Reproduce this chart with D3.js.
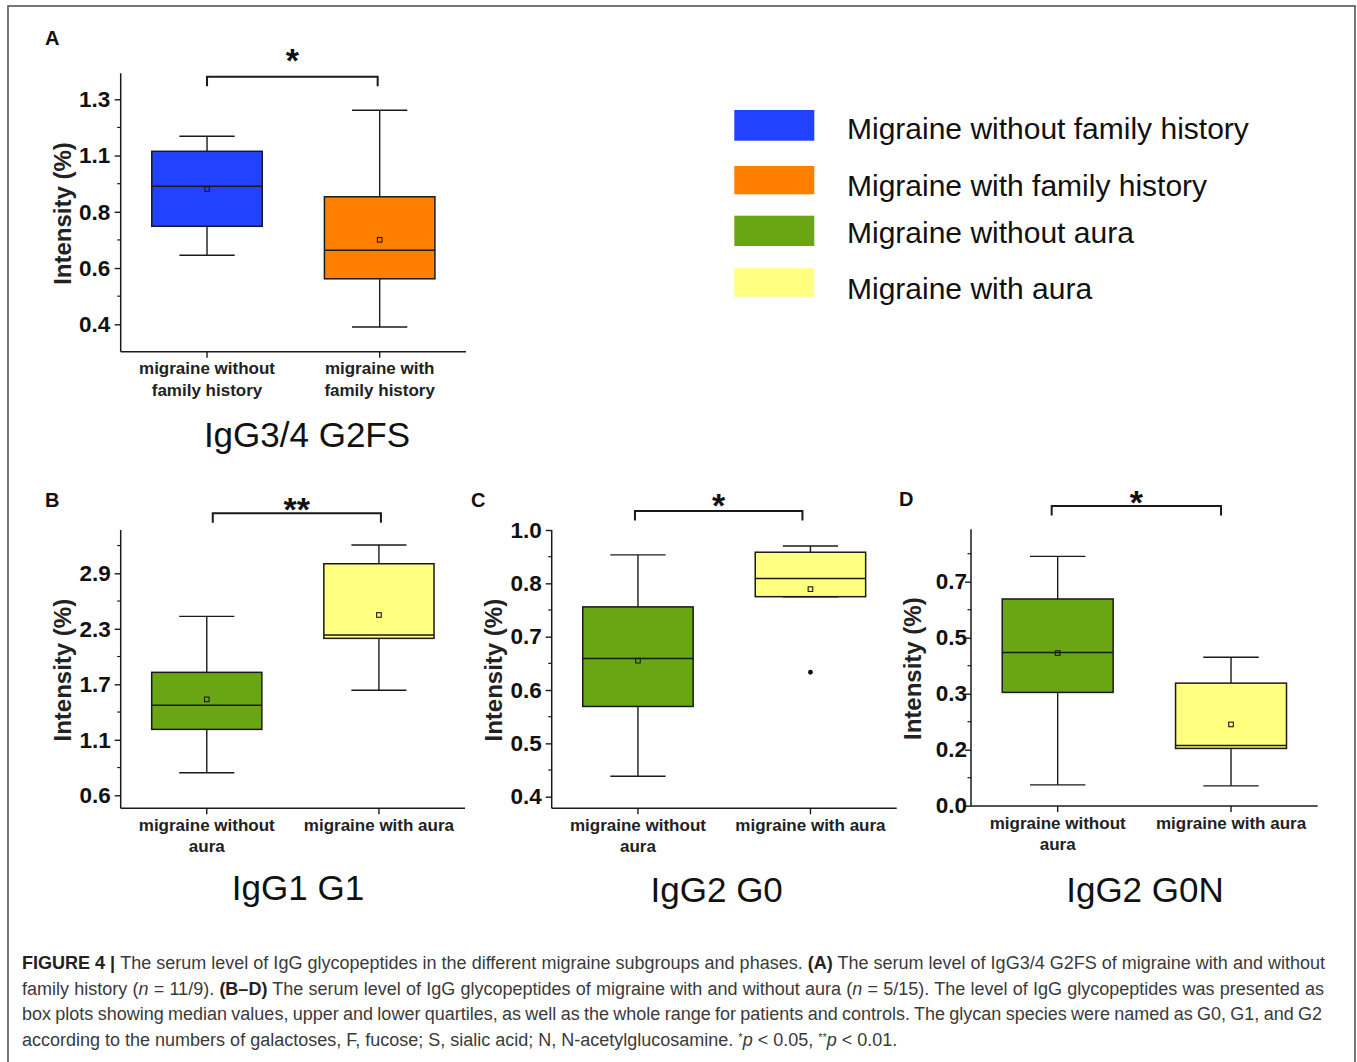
<!DOCTYPE html>
<html>
<head>
<meta charset="utf-8">
<script src="https://cdn.jsdelivr.net/npm/d3@7"></script>
<style>
  body { margin: 0; background: #fff; }
  svg text { font-family: "Liberation Sans", Arial, sans-serif; }
</style>
</head>
<body>
<svg id="fig" width="1357" height="1062"></svg>
<script>
// ----------- DATA -----------
// categories ("|" splits the label onto two lines)
const familyGroups = ["migraine without|family history", "migraine with|family history"];
const auraGroups = ["migraine without|aura", "migraine with aura"];

// box stats: whisker min, q1, median, q3, whisker max, mean
const g2fsBoxes = [
  { min: 0.676, q1: 0.792, median: 0.952, q3: 1.092, max: 1.152, mean: 0.941, outliers: [] },
  { min: 0.389, q1: 0.582, median: 0.696, q3: 0.910, max: 1.256, mean: 0.738, outliers: [] }
];
const g1Boxes = [
  { min: 0.834, q1: 1.283, median: 1.532, q3: 1.874, max: 2.454, mean: 1.594, outliers: [] },
  { min: 1.688, q1: 2.226, median: 2.261, q3: 2.999, max: 3.193, mean: 2.468, outliers: [] }
];
const g0Boxes = [
  { min: 0.446, q1: 0.603, median: 0.711, q3: 0.827, max: 0.944, mean: 0.706, outliers: [] },
  { min: 0.850, q1: 0.850, median: 0.891, q3: 0.950, max: 0.964, mean: 0.867, outliers: [0.680] }
];
const g0nBoxes = [
  { min: 0.065, q1: 0.354, median: 0.479, q3: 0.646, max: 0.779, mean: 0.477, outliers: [] },
  { min: 0.062, q1: 0.179, median: 0.188, q3: 0.383, max: 0.464, mean: 0.254, outliers: [] }
];

// y ticks (the labels are printed rounded, as in the original figure)
const g2fsTicks = [0.4, 0.625, 0.85, 1.075, 1.3];
const g2fsTickLabels = ["0.4", "0.6", "0.8", "1.1", "1.3"];
const g1Ticks = [0.6, 1.175, 1.75, 2.325, 2.9];
const g1TickLabels = ["0.6", "1.1", "1.7", "2.3", "2.9"];
const g0Ticks = [0.4, 0.52, 0.64, 0.76, 0.88, 1.0];
const g0TickLabels = ["0.4", "0.5", "0.6", "0.7", "0.8", "1.0"];
const g0nTicks = [0, 0.175, 0.35, 0.525, 0.7];
const g0nTickLabels = ["0.0", "0.2", "0.3", "0.5", "0.7"];

// legend
const legendLabels = ["Migraine without family history", "Migraine with family history",
                      "Migraine without aura", "Migraine with aura"];
const legendColors = ["#2142ff", "#ff8000", "#6aa514", "#ffff80"];

// ----------- LAYOUT -----------
const panels = [
  { letter: "A", lx: 45, ly: 45, boxes: g2fsBoxes, groups: familyGroups, colors: [legendColors[0], legendColors[1]],
    ticks: g2fsTicks, labels: g2fsTickLabels, left: 120.7, right: 466, top: 73.3, bottom: 351.7,
    yPx: [324.3, 99.3], pad: 4.5, title: "IgG3/4 G2FS", titleX: 307, titleY: 446.7,
    sig: "*", bracketY: 76.7, bracketDx: [0, -2], sigY: 72 },
  { letter: "B", lx: 45, ly: 507, boxes: g1Boxes, groups: auraGroups, colors: [legendColors[2], legendColors[3]],
    ticks: g1Ticks, labels: g1TickLabels, left: 120.7, right: 465, top: 530, bottom: 808.3,
    yPx: [795.3, 573.3], pad: 4, title: "IgG1 G1", titleX: 298, titleY: 900,
    sig: "**", bracketY: 513.3, bracketDx: [6, 2], sigY: 521 },
  { letter: "C", lx: 471, ly: 507, boxes: g0Boxes, groups: auraGroups, colors: [legendColors[2], legendColors[3]],
    ticks: g0Ticks, labels: g0TickLabels, left: 551.7, right: 896.7, top: 530, bottom: 808.3,
    yPx: [796.7, 530], pad: 4, title: "IgG2 G0", titleX: 716.7, titleY: 901.7,
    sig: "*", bracketY: 511, bracketDx: [-3, -8], sigY: 517 },
  { letter: "D", lx: 899, ly: 506, boxes: g0nBoxes, groups: auraGroups, colors: [legendColors[2], legendColors[3]],
    ticks: g0nTicks, labels: g0nTickLabels, left: 971, right: 1317.7, top: 529.3, bottom: 806,
    yPx: [805.7, 581.7], pad: -2, title: "IgG2 G0N", titleX: 1145, titleY: 901.7,
    sig: "*", bracketY: 506, bracketDx: [-6, -10], sigY: 513.5 }
];

const ink = "#1a1a1a";
const svg = d3.select("#fig");

// outer frame of the figure
svg.append("rect")
  .attr("x", 8).attr("y", 6)
  .attr("width", 1347).attr("height", 1080)
  .attr("fill", "none")
  .attr("stroke", "#555")
  .attr("stroke-width", 1.6);

// ----------- PANELS -----------
panels.forEach(p => {
  const g = svg.append("g");

  const y = d3.scaleLinear()
    .domain([p.ticks[0], p.ticks[p.ticks.length - 1]])
    .range(p.yPx);
  const x = d3.scalePoint()
    .domain(p.groups)
    .range([p.left, p.right])
    .padding(0.5);
  const step = x.step();
  const boxW = step * 0.64;
  const capW = step * 0.32;

  // panel letter
  g.append("text")
    .attr("x", p.lx).attr("y", p.ly)
    .attr("font-size", 20).attr("font-weight", "bold")
    .attr("fill", "#111")
    .text(p.letter);

  // y axis, major ticks
  const yAxis = g.append("g")
    .attr("transform", `translate(${p.left},0)`)
    .call(d3.axisLeft(y)
      .tickValues(p.ticks)
      .tickFormat((d, i) => p.labels[i])
      .tickSize(6)
      .tickPadding(p.pad));
  yAxis.select(".domain").remove();
  yAxis.selectAll("line").attr("stroke", ink).attr("stroke-width", 1.4);
  yAxis.selectAll("text")
    .attr("font-size", 22.5).attr("font-weight", "bold")
    .attr("fill", "#111")
    .style("font-family", '"Liberation Sans", Arial, sans-serif');

  // minor ticks halfway between the major ones
  const tStep = p.ticks[1] - p.ticks[0];
  const minor = [];
  for (let i = 0; i < p.ticks.length - 1; i++) minor.push((p.ticks[i] + p.ticks[i + 1]) / 2);
  const above = p.ticks[p.ticks.length - 1] + tStep / 2;
  if (y(above) >= p.top) minor.push(above);
  const below = p.ticks[0] - tStep / 2;
  if (y(below) <= p.bottom) minor.push(below);
  g.selectAll(".minor")
    .data(minor)
    .enter()
    .append("line")
    .attr("class", "minor")
    .attr("x1", p.left - 3.5).attr("x2", p.left)
    .attr("y1", d => y(d)).attr("y2", d => y(d))
    .attr("stroke", ink).attr("stroke-width", 1.2);

  // axis lines
  g.append("line")
    .attr("x1", p.left).attr("x2", p.left)
    .attr("y1", p.top).attr("y2", p.bottom)
    .attr("stroke", ink).attr("stroke-width", 1.5);
  g.append("line")
    .attr("x1", p.left).attr("x2", p.right)
    .attr("y1", p.bottom).attr("y2", p.bottom)
    .attr("stroke", ink).attr("stroke-width", 1.5);

  // x ticks and category labels
  g.selectAll(".xtick")
    .data(p.groups)
    .enter()
    .append("line")
    .attr("class", "xtick")
    .attr("x1", d => x(d)).attr("x2", d => x(d))
    .attr("y1", p.bottom).attr("y2", p.bottom + 6)
    .attr("stroke", ink).attr("stroke-width", 1.4);

  const xl = g.selectAll(".xlabel")
    .data(p.groups)
    .enter()
    .append("text")
    .attr("class", "xlabel")
    .attr("text-anchor", "middle")
    .attr("font-size", 17).attr("font-weight", "bold")
    .attr("fill", "#222");
  xl.each(function(d) {
    d3.select(this).selectAll("tspan")
      .data(d.split("|"))
      .enter()
      .append("tspan")
      .attr("x", x(d))
      .attr("y", (s, i) => p.bottom + 22.5 + i * 21.5)
      .text(s => s);
  });

  // y label
  g.append("text")
    .attr("transform", `translate(${p.left - 50},${(p.top + p.bottom) / 2 + 1}) rotate(-90)`)
    .attr("text-anchor", "middle")
    .attr("font-size", 24).attr("font-weight", "bold")
    .attr("fill", "#222")
    .text("Intensity (%)");

  // boxes
  const bx = g.selectAll(".box")
    .data(p.boxes)
    .enter()
    .append("g")
    .attr("class", "box")
    .attr("transform", (d, i) => `translate(${x(p.groups[i])},0)`);

  // whiskers
  bx.append("line")
    .attr("x1", 0).attr("x2", 0)
    .attr("y1", d => y(d.max)).attr("y2", d => y(d.q3))
    .attr("stroke", ink).attr("stroke-width", 1.4);
  bx.append("line")
    .attr("x1", 0).attr("x2", 0)
    .attr("y1", d => y(d.q1)).attr("y2", d => y(d.min))
    .attr("stroke", ink).attr("stroke-width", 1.4);
  bx.append("line")
    .attr("x1", -capW / 2).attr("x2", capW / 2)
    .attr("y1", d => y(d.max)).attr("y2", d => y(d.max))
    .attr("stroke", ink).attr("stroke-width", 1.4);
  bx.append("line")
    .attr("x1", -capW / 2).attr("x2", capW / 2)
    .attr("y1", d => y(d.min)).attr("y2", d => y(d.min))
    .attr("stroke", ink).attr("stroke-width", 1.4);

  bx.append("rect")
    .attr("x", -boxW / 2)
    .attr("width", boxW)
    .attr("y", d => y(d.q3))
    .attr("height", d => Math.max(1, y(d.q1) - y(d.q3)))
    .attr("fill", (d, i) => p.colors[i])
    .attr("stroke", ink).attr("stroke-width", 1.5);

  // median
  bx.append("line")
    .attr("x1", -boxW / 2).attr("x2", boxW / 2)
    .attr("y1", d => y(d.median)).attr("y2", d => y(d.median))
    .attr("stroke", ink).attr("stroke-width", 1.5);

  // mean marker
  bx.append("rect")
    .attr("x", -2.3).attr("width", 4.6)
    .attr("y", d => y(d.mean) - 2.3).attr("height", 4.6)
    .attr("fill", "none")
    .attr("stroke", ink).attr("stroke-width", 1.1);

  // outliers
  bx.selectAll(".outlier")
    .data(d => d.outliers)
    .enter()
    .append("circle")
    .attr("class", "outlier")
    .attr("cx", 0).attr("cy", d => y(d))
    .attr("r", 2.4)
    .attr("fill", "#111");

  // significance bracket
  const bx0 = x(p.groups[0]) + p.bracketDx[0];
  const bx1 = x(p.groups[1]) + p.bracketDx[1];
  g.append("path")
    .attr("d", `M${bx0},${p.bracketY + 9.5}V${p.bracketY}H${bx1}V${p.bracketY + 9.5}`)
    .attr("fill", "none")
    .attr("stroke", ink).attr("stroke-width", 2);
  g.append("text")
    .attr("x", (bx0 + bx1) / 2).attr("y", p.sigY)
    .attr("text-anchor", "middle")
    .attr("font-size", 34).attr("font-weight", "bold")
    .attr("fill", "#111")
    .text(p.sig);

  // panel title
  g.append("text")
    .attr("x", p.titleX).attr("y", p.titleY)
    .attr("text-anchor", "middle")
    .attr("font-size", 35)
    .attr("fill", "#111")
    .text(p.title);
});

// ----------- LEGEND -----------
const legendRectY = [110, 166, 215.7, 268.3];
const legendRectH = [30.7, 28.3, 30.3, 28.4];
const legendTextY = [138.5, 196, 242.5, 299];

const legend = svg.append("g");
legend.selectAll("rect")
  .data(legendColors)
  .enter()
  .append("rect")
  .attr("x", 734.3)
  .attr("y", (d, i) => legendRectY[i])
  .attr("width", 80)
  .attr("height", (d, i) => legendRectH[i])
  .attr("fill", d => d);
legend.selectAll("text")
  .data(legendLabels)
  .enter()
  .append("text")
  .attr("x", 847)
  .attr("y", (d, i) => legendTextY[i])
  .attr("font-size", 30)
  .attr("fill", "#111")
  .text(d => d);

// ----------- CAPTION -----------
// each line is a list of [text, style] runs; b = bold, i = italic, s = superscript
const captionLines = [
  [["FIGURE 4 | ", "b"], ["The serum level of IgG glycopeptides in the different migraine subgroups and phases. ", ""],
   ["(A)", "b"], [" The serum level of IgG3/4 G2FS of migraine with and without", ""]],
  [["family history (", ""], ["n", "i"], [" = 11/9). ", ""], ["(B–D)", "b"],
   [" The serum level of IgG glycopeptides of migraine with and without aura (", ""], ["n", "i"],
   [" = 5/15). The level of IgG glycopeptides was presented as", ""]],
  [["box plots showing median values, upper and lower quartiles, as well as the whole range for patients and controls. The glycan species were named as G0, G1, and G2", ""]],
  [["according to the numbers of galactoses, F, fucose; S, sialic acid; N, N-acetylglucosamine. ", ""],
   ["*", "s"], ["p", "i"], [" < 0.05, ", ""], ["**", "s"], ["p", "i"], [" < 0.01.", ""]]
];
const captionY = [969, 995, 1020.3, 1045.5];
const captionRight = [1325, 1324, 1322, null];
const captionX = 22;

const cap = svg.append("g");
const capTexts = captionLines.map((runs, li) => {
  const t = cap.append("text")
    .attr("x", captionX).attr("y", captionY[li])
    .attr("font-size", 18)
    .attr("fill", "#3a3a3a");
  runs.forEach(r => {
    const ts = t.append("tspan").text(r[0]);
    if (r[1] === "b") ts.attr("font-weight", "bold").attr("fill", "#222");
    if (r[1] === "i") ts.attr("font-style", "italic");
    if (r[1] === "s") ts.attr("font-size", 11).attr("baseline-shift", "45%");
  });
  return t;
});

// fit the font size to the first line, then justify the full lines
const natural = capTexts[0].node().getComputedTextLength();
const fs = 18 * (captionRight[0] - captionX) / natural;
capTexts.forEach(t => t.attr("font-size", fs));
capTexts.forEach((t, li) => {
  if (captionRight[li] == null) return;
  const w = t.node().getComputedTextLength();
  const spaces = (t.text().match(/ /g) || []).length;
  t.attr("word-spacing", ((captionRight[li] - captionX) - w) / spaces);
});
</script>
</body>
</html>
